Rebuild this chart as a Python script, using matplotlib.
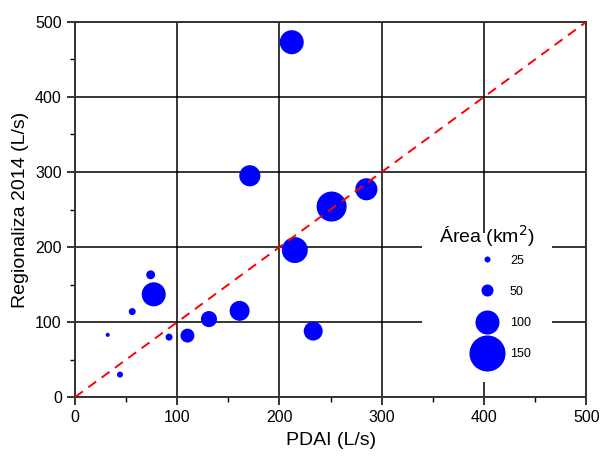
import numpy as np
import matplotlib.pyplot as plt
from matplotlib.lines import Line2D
from matplotlib.ticker import MultipleLocator

plt.rcParams['font.family'] = ['Liberation Sans', 'DejaVu Sans']

# PDAI vs Regionaliza 2014 (L/s), marker size = drainage area (km2)
pdai = [212, 171, 251, 285, 215, 233, 161, 131, 110, 92, 77, 74, 56, 32, 44]
regionaliza = [473, 295, 254, 277, 196, 88, 115, 104, 82, 80, 137, 163, 114, 83, 30]
area = [100, 88, 125, 92, 108, 79, 83, 67, 58, 29, 100, 37, 29, 17, 25]

legend_areas = [25, 50, 100, 150]

def msize(a) :
    # marker diameter in points, proportional to area
    return 0.173*np.asarray(a)

fig = plt.figure(figsize=(6.0, 4.57), dpi=100)
ax = fig.add_axes([0.125, 0.131, 0.852, 0.821])

ax.scatter(pdai, regionaliza, s=msize(area)**2, color='#0000ff',
           edgecolors='none', zorder=3)
ax.plot([0, 500], [0, 500], color='#ff0000', ls=(0, (5, 3.5)), lw=1.4, zorder=4)

ax.set_xlim(0, 500)
ax.set_ylim(0, 500)
ax.xaxis.set_major_locator(MultipleLocator(100))
ax.yaxis.set_major_locator(MultipleLocator(100))
ax.xaxis.set_minor_locator(MultipleLocator(50))
ax.yaxis.set_minor_locator(MultipleLocator(50))
ax.grid(True, which='major', color='black', lw=1.1, zorder=1)
ax.set_axisbelow(True)
ax.tick_params(which='major', direction='out', length=6, width=1.1, labelsize=11.5)
ax.tick_params(which='minor', direction='out', length=3.5, width=1.0)
for sp in ax.spines.values() :
    sp.set_color('#333333')
    sp.set_linewidth(1.4)

ax.set_xlabel('PDAI (L/s)', fontsize=14, labelpad=5)
ax.set_ylabel('Regionaliza 2014 (L/s)', fontsize=14, labelpad=4)

# size legend, title drawn separately so it sits closer to the entries
handles = [Line2D([], [], ls='none', marker='o', color='#0000ff', mec='none',
                  markersize=msize(a)) for a in legend_areas]
leg = ax.legend(handles, [str(a) for a in legend_areas],
                loc='center', bbox_to_anchor=(0.806, 0.239), frameon=True,
                fontsize=9, labelspacing=1.54, handlelength=7.0,
                handletextpad=-1.65, borderpad=1.7, framealpha=1)
leg.get_frame().set_edgecolor('none')
leg.get_frame().set_facecolor('white')
leg.set_zorder(5)
ax.text(0.806, 0.4293, 'Área (km$^2$)', transform=ax.transAxes, fontsize=14,
        ha='center', va='center', zorder=6)

fig.savefig('out.png', dpi=100)
